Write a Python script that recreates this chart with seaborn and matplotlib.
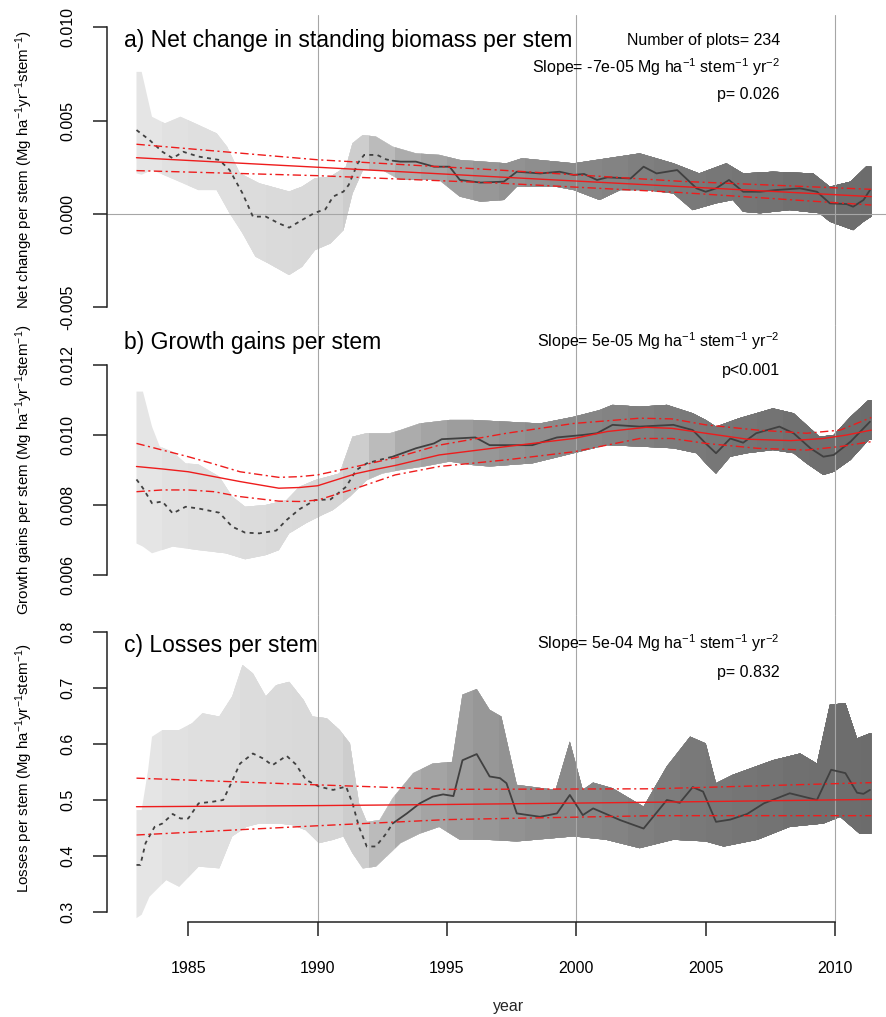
import matplotlib
matplotlib.use("Agg")
import matplotlib.pyplot as plt
from matplotlib.patches import Polygon
import numpy as np
import seaborn as sns

# ---- shared axis values ----
YEAR_TICKS = [1985, 1990, 1995, 2000, 2005, 2010]
YEAR_TICKLABELS = ["1985", "1990", "1995", "2000", "2005", "2010"]
GRID_YEARS = [1990, 2000, 2010]
DASH_END = 1992.9

# number of monitored plots per year (drives band shading)
plot_years = [1983, 1984, 1985, 1986, 1987, 1988, 1989, 1990, 1991, 1992,
              1993, 1994, 1995, 1996, 1997, 1998, 1999, 2000, 2001, 2002,
              2003, 2004, 2005, 2006, 2007, 2008, 2009, 2010, 2011]
plot_counts = [1, 2, 3, 3, 4, 5, 6, 8, 15, 35,
               60, 75, 90, 105, 118, 128, 140, 150, 160, 170,
               180, 190, 198, 205, 212, 220, 226, 232, 234]

# ---- a) net change ----
a_mean_yr = [1983.0, 1983.5, 1984.0, 1984.4, 1984.8, 1985.4, 1986.2, 1986.6, 1987.1, 1987.5,
             1988.0, 1988.5, 1988.9, 1989.4, 1989.9, 1990.3, 1990.6, 1991.0, 1991.2, 1991.55,
             1991.8, 1992.3, 1992.65, 1992.9, 1993.2, 1993.8, 1994.5, 1994.7, 1995.1, 1995.5,
             1996.3, 1997.2, 1997.7, 1998.6, 1999.35, 1999.9, 2000.3, 2000.8, 2001.2, 2002.1,
             2002.6, 2003.1, 2003.9, 2004.65, 2005.0, 2005.4, 2005.9, 2006.45, 2007.1, 2007.7,
             2008.65, 2009.3, 2009.8, 2010.45, 2010.7, 2011.1, 2011.35]
a_mean = [0.00449, 0.00396, 0.00333, 0.00298, 0.00333, 0.00307, 0.00289, 0.00235, 0.00110, -0.00014,
          -0.00014, -0.00050, -0.00073, -0.00032, 0.00007, 0.00025, 0.00093, 0.00120, 0.00155, 0.00271,
          0.00316, 0.00316, 0.00292, 0.00285, 0.00280, 0.00280, 0.00253, 0.00253, 0.00253, 0.00182,
          0.00168, 0.00173, 0.00226, 0.00217, 0.00226, 0.00209, 0.00214, 0.00182, 0.00196, 0.00190,
          0.00253, 0.00217, 0.00235, 0.00137, 0.00119, 0.00137, 0.00182, 0.00119, 0.00119, 0.00128,
          0.00137, 0.00119, 0.00057, 0.00053, 0.00039, 0.00075, 0.00128]
a_hi_yr = [1983.0, 1983.2, 1983.6, 1984.1, 1984.7, 1985.4, 1986.1, 1986.5, 1987.0, 1987.75,
           1988.9, 1989.4, 1989.9, 1990.5, 1991.1, 1991.35, 1991.75, 1992.25, 1992.9, 1993.8,
           1994.7, 1995.5, 1997.3, 1997.9, 1999.9, 2001.2, 2002.45, 2003.75, 2004.75, 2005.8,
           2006.45, 2007.6, 2009.15, 2009.8, 2010.6, 2011.2, 2011.4]
a_hi = [0.0076, 0.0076, 0.0052, 0.00485, 0.0052, 0.00476, 0.00431, 0.0036, 0.00217, 0.00164,
        0.0012, 0.00146, 0.00191, 0.0020, 0.00253, 0.00378, 0.00422, 0.00414, 0.0036, 0.00324,
        0.00316, 0.00289, 0.00271, 0.00298, 0.00271, 0.00298, 0.00324, 0.00271, 0.00217, 0.00271,
        0.00217, 0.00226, 0.00217, 0.00146, 0.00173, 0.00253, 0.00253]
a_lo_yr = [1983.0, 1983.2, 1983.6, 1984.5, 1985.4, 1986.1, 1986.6, 1987.1, 1987.6, 1988.1,
           1988.9, 1989.4, 1989.9, 1990.5, 1991.0, 1991.35, 1991.75, 1992.5, 1993.2, 1994.7,
           1995.5, 1996.3, 1997.2, 1997.7, 1999.2, 1999.9, 2000.9, 2001.7, 2002.7, 2003.75,
           2004.5, 2005.4, 2006.05, 2006.45, 2007.1, 2008.25, 2009.4, 2009.8, 2010.7, 2011.1,
           2011.4]
a_lo = [0.00217, 0.0021, 0.00235, 0.00182, 0.00128, 0.00128, 0.00004, -0.00103, -0.00228, -0.00264,
        -0.00326, -0.00282, -0.00193, -0.00157, -0.00086, 0.0011, 0.00235, 0.00235, 0.00182, 0.00182,
        0.00093, 0.00066, 0.00075, 0.00146, 0.00146, 0.00128, 0.00075, 0.00128, 0.00128, 0.0011,
        0.00021, 0.00057, 0.00075, 0.00012, 0.00004, 0.00021, 0.00004, -0.00041, -0.00086, -0.00041,
        -0.00014]
a_fit_yr = [1983.0, 1990.0, 1997.0, 2004.0, 2011.4]
a_fit = [0.00301, 0.00250, 0.00198, 0.00147, 0.00093]
a_fit_hi = [0.00373, 0.00290, 0.00235, 0.00175, 0.00132]
a_fit_lo = [0.00232, 0.00205, 0.00165, 0.00115, 0.00048]
a_ticks = [-0.005, 0.0, 0.005, 0.010]
a_ticklabels = ["-0.005", "0.000", "0.005", "0.010"]

# ---- b) growth gains ----
b_mean_yr = [1983.0, 1983.25, 1983.6, 1984.0, 1984.4, 1984.9, 1985.4, 1986.2, 1986.7, 1987.2,
             1987.75, 1988.4, 1988.8, 1989.3, 1989.9, 1990.5, 1991.1, 1991.5, 1991.9, 1992.4,
             1992.9, 1993.8, 1994.5, 1994.8, 1996.1, 1996.65, 1998.3, 1999.25, 2000.25, 2000.8,
             2001.4, 2002.45, 2003.75, 2004.5, 2005.0, 2005.4, 2005.95, 2006.45, 2006.95, 2007.85,
             2008.4, 2009.05, 2009.55, 2009.95, 2010.6, 2011.35]
b_mean = [0.00873, 0.00848, 0.00805, 0.0081, 0.00776, 0.00795, 0.0079, 0.00778, 0.00738, 0.00721,
          0.00719, 0.00727, 0.00757, 0.00788, 0.00814, 0.00816, 0.00852, 0.0090, 0.00919, 0.00929,
          0.00938, 0.00962, 0.00976, 0.00988, 0.00993, 0.00971, 0.00971, 0.00993, 0.0100, 0.01005,
          0.01029, 0.01024, 0.01029, 0.01014, 0.00976, 0.00948, 0.0099, 0.00978, 0.01005, 0.01024,
          0.01005, 0.00962, 0.00938, 0.00943, 0.00981, 0.01038]
b_hi_yr = [1983.0, 1983.25, 1983.6, 1983.9, 1984.4, 1984.9, 1985.4, 1986.2, 1986.7, 1987.2,
           1988.0, 1988.8, 1989.3, 1989.9, 1990.85, 1991.35, 1991.9, 1992.8, 1993.2, 1993.95,
           1995.1, 1996.0, 1998.6, 1999.9, 2000.9, 2001.4, 2002.45, 2003.5, 2004.5, 2005.0,
           2005.4, 2006.3, 2007.6, 2008.4, 2009.4, 2009.95, 2010.6, 2011.3, 2011.4]
b_hi = [0.01124, 0.01124, 0.01024, 0.00967, 0.00952, 0.00919, 0.00916, 0.00881, 0.00824, 0.00795,
        0.0080, 0.00814, 0.00852, 0.00871, 0.0089, 0.00995, 0.01005, 0.01005, 0.01014, 0.01033,
        0.01043, 0.01043, 0.01033, 0.01052, 0.01071, 0.01086, 0.01081, 0.01086, 0.01062, 0.01043,
        0.01024, 0.01048, 0.01076, 0.01062, 0.00995, 0.0100, 0.01052, 0.0110, 0.0110]
b_lo_yr = [1983.0, 1983.25, 1983.6, 1984.4, 1985.4, 1986.45, 1987.2, 1988.0, 1988.5, 1988.9,
           1989.55, 1990.05, 1990.6, 1991.25, 1991.9, 1992.5, 1993.2, 1994.1, 1995.1, 1996.0,
           1996.65, 1998.3, 1999.9, 2001.15, 2002.45, 2003.75, 2004.65, 2005.0, 2005.4, 2005.95,
           2006.6, 2007.6, 2008.4, 2008.9, 2009.55, 2009.95, 2010.6, 2011.3, 2011.4]
b_lo = [0.0069, 0.00681, 0.00662, 0.00681, 0.00671, 0.00662, 0.00645, 0.00657, 0.00671, 0.00719,
        0.00748, 0.00767, 0.00786, 0.00824, 0.00871, 0.0089, 0.0090, 0.0091, 0.00924, 0.00914,
        0.0091, 0.00919, 0.00948, 0.00971, 0.00967, 0.00962, 0.00948, 0.00919, 0.0089, 0.00938,
        0.00948, 0.00957, 0.00948, 0.00919, 0.00886, 0.00895, 0.00929, 0.00986, 0.00986]
b_fit_yr = [1983.0, 1984.0, 1985.0, 1986.0, 1987.0, 1988.5, 1989.3, 1990.0, 1991.5, 1992.25,
            1993.0, 1994.7, 1997.3, 1999.9, 2001.2, 2002.7, 2003.7, 2005.0, 2006.6, 2008.3,
            2009.55, 2010.45, 2011.4]
b_fit = [0.0091, 0.00903, 0.00895, 0.00881, 0.00867, 0.00848, 0.0085, 0.00855, 0.0089, 0.00902,
         0.00913, 0.00943, 0.00967, 0.0099, 0.0101, 0.01022, 0.01019, 0.01005, 0.00988, 0.00984,
         0.0099, 0.0100, 0.01014]
b_ci_yr = [1983.0, 1984.0, 1985.0, 1986.0, 1987.0, 1988.5, 1989.3, 1990.0, 1991.5, 1993.0,
           1994.7, 1997.3, 1999.9, 2002.45, 2003.7, 2005.0, 2007.0, 2008.9, 2010.2, 2011.4]
b_fit_hi = [0.00976, 0.00957, 0.00938, 0.00917, 0.00895, 0.00879, 0.00881, 0.00886, 0.0091, 0.00935,
            0.00971, 0.01005, 0.01033, 0.01048, 0.01046, 0.01029, 0.01014, 0.01005, 0.01014, 0.0105]
b_fit_lo = [0.00838, 0.00843, 0.00843, 0.00838, 0.00824, 0.00811, 0.0081, 0.00814, 0.00848, 0.00886,
            0.0091, 0.00929, 0.00952, 0.0099, 0.0099, 0.00976, 0.00962, 0.00957, 0.00967, 0.00981]
b_ticks = [0.006, 0.008, 0.010, 0.012]
b_ticklabels = ["0.006", "0.008", "0.010", "0.012"]

# ---- c) losses ----
c_mean_yr = [1983.0, 1983.15, 1983.35, 1983.7, 1984.0, 1984.4, 1984.7, 1985.0, 1985.4, 1985.95,
             1986.35, 1986.6, 1987.0, 1987.5, 1987.9, 1988.25, 1988.8, 1989.15, 1989.55, 1990.05,
             1990.6, 1991.1, 1991.35, 1991.6, 1991.9, 1992.25, 1992.65, 1992.9, 1993.45, 1993.95,
             1994.45, 1994.85, 1995.25, 1995.6, 1996.15, 1996.65, 1997.05, 1997.3, 1997.7, 1998.6,
             1999.25, 1999.75, 2000.25, 2000.65, 2001.7, 2002.6, 2003.5, 2004.0, 2004.5, 2004.9,
             2005.4, 2005.95, 2006.6, 2007.25, 2008.25, 2009.3, 2009.85, 2010.4, 2010.85, 2011.1,
             2011.35]
c_mean = [0.384, 0.384, 0.423, 0.452, 0.458, 0.475, 0.467, 0.467, 0.494, 0.497,
          0.500, 0.524, 0.565, 0.583, 0.574, 0.562, 0.579, 0.564, 0.536, 0.524,
          0.518, 0.524, 0.494, 0.452, 0.417, 0.417, 0.440, 0.458, 0.476, 0.494,
          0.506, 0.510, 0.507, 0.571, 0.582, 0.542, 0.539, 0.530, 0.476, 0.470,
          0.476, 0.509, 0.473, 0.485, 0.464, 0.449, 0.500, 0.495, 0.523, 0.515,
          0.461, 0.465, 0.475, 0.494, 0.512, 0.500, 0.554, 0.548, 0.513, 0.511,
          0.518]
c_hi_yr = [1983.0, 1983.2, 1983.45, 1983.6, 1984.0, 1984.65, 1985.15, 1985.55, 1986.2, 1986.7,
           1987.1, 1987.5, 1988.0, 1988.4, 1988.9, 1989.45, 1989.8, 1990.35, 1990.85, 1991.25,
           1991.6, 1991.9, 1992.4, 1992.9, 1993.7, 1994.45, 1995.2, 1995.6, 1996.15, 1996.65,
           1997.1, 1997.7, 1999.2, 1999.75, 2000.25, 2000.65, 2001.4, 2002.6, 2003.5, 2004.4,
           2005.0, 2005.4, 2006.05, 2007.6, 2008.65, 2009.3, 2009.8, 2010.4, 2010.85, 2011.35,
           2011.4]
c_hi = [0.482, 0.482, 0.554, 0.613, 0.625, 0.625, 0.637, 0.655, 0.649, 0.685,
        0.741, 0.726, 0.685, 0.705, 0.711, 0.679, 0.649, 0.646, 0.625, 0.601,
        0.494, 0.461, 0.464, 0.503, 0.548, 0.565, 0.568, 0.688, 0.698, 0.661,
        0.649, 0.527, 0.518, 0.604, 0.518, 0.531, 0.521, 0.488, 0.560, 0.613,
        0.601, 0.530, 0.545, 0.571, 0.583, 0.565, 0.670, 0.673, 0.610, 0.619,
        0.619]
c_lo_yr = [1983.0, 1983.2, 1983.5, 1984.15, 1984.65, 1985.4, 1986.2, 1986.7, 1987.25, 1987.75,
           1988.5, 1989.05, 1989.55, 1990.05, 1990.6, 1991.0, 1991.35, 1991.75, 1992.25, 1992.8,
           1993.2, 1993.95, 1994.7, 1995.5, 1996.5, 1997.7, 1999.9, 2001.15, 2002.45, 2003.75,
           2005.0, 2005.7, 2007.0, 2008.25, 2009.55, 2010.2, 2010.95, 2011.4]
c_lo = [0.289, 0.295, 0.327, 0.357, 0.345, 0.381, 0.378, 0.435, 0.452, 0.458,
        0.458, 0.455, 0.446, 0.423, 0.429, 0.435, 0.405, 0.378, 0.381, 0.405,
        0.423, 0.440, 0.452, 0.429, 0.429, 0.426, 0.435, 0.429, 0.414, 0.429,
        0.426, 0.417, 0.429, 0.452, 0.458, 0.470, 0.440, 0.440]
c_fit_yr = [1983.0, 1990.0, 1995.0, 2003.0, 2011.4]
c_fit = [0.488, 0.490, 0.492, 0.496, 0.501]
c_fit_hi = [0.539, 0.527, 0.519, 0.520, 0.531]
c_fit_lo = [0.4375, 0.454, 0.465, 0.472, 0.472]
c_ticks = [0.3, 0.4, 0.5, 0.6, 0.7, 0.8]
c_ticklabels = ["0.3", "0.4", "0.5", "0.6", "0.7", "0.8"]

# ---- style ----
sns.set_theme(style="white")
plt.rcParams["font.family"] = ["Liberation Sans", "DejaVu Sans"]
plt.rcParams["mathtext.fontset"] = "custom"
plt.rcParams["mathtext.rm"] = "Liberation Sans"
plt.rcParams["mathtext.it"] = "Liberation Sans:italic"
plt.rcParams["mathtext.bf"] = "Liberation Sans:bold"
plt.rcParams["axes.unicode_minus"] = False

FIG_W, FIG_H = 886, 1017
FS = 11.5
LABEL_FS = 10.8
INK = "#222222"
MEAN_COLOR = "#404040"
RED = "#ee1c1c"
GRID = "#a6a6a6"
XLIM = (1981.86, 2011.97)

fig = plt.figure(figsize=(FIG_W / 100, FIG_H / 100), dpi=100)


def px_axes(top, bottom, left=107, right=886):
    return fig.add_axes([left / FIG_W, 1 - bottom / FIG_H,
                         (right - left) / FIG_W, (bottom - top) / FIG_H])


def grey_for(n):
    return str(0.93 - 0.033 * np.sqrt(n))


def draw_panel(ax, p):
    # shaded band, darker where more plots were monitored
    verts = list(zip(p["hi_yr"], p["hi"])) + list(zip(p["lo_yr"][::-1], p["lo"][::-1]))
    band = Polygon(verts, closed=True, facecolor="none", edgecolor="none")
    ax.add_patch(band)
    for yr, n in zip(plot_years, plot_counts):
        span = ax.axvspan(yr, XLIM[1], color=grey_for(n), lw=0, zorder=1)
        span.set_clip_path(band)

    for g in GRID_YEARS:
        ax.axvline(g, color=GRID, lw=0.8, zorder=2)
    if p.get("zero"):
        ax.axhline(0, color=GRID, lw=0.8, zorder=2)

    yr = np.array(p["mean_yr"])
    mv = np.array(p["mean"])
    early = yr <= DASH_END
    late = yr >= DASH_END
    sns.lineplot(x=yr[early], y=mv[early], ax=ax, color=MEAN_COLOR, lw=1.3,
                 linestyle=(0, (2.2, 2.4)), estimator=None, sort=False, errorbar=None, zorder=3)
    sns.lineplot(x=yr[late], y=mv[late], ax=ax, color=MEAN_COLOR, lw=1.3,
                 estimator=None, sort=False, errorbar=None, zorder=3)

    sns.lineplot(x=p["fit_yr"], y=p["fit"], ax=ax, color=RED, lw=1.0,
                 estimator=None, sort=False, errorbar=None, zorder=4)
    for ci in (p["fit_hi"], p["fit_lo"]):
        sns.lineplot(x=p["ci_yr"], y=ci, ax=ax, color=RED, lw=1.0,
                     linestyle=(0, (6, 2.5, 1.5, 2.5)),
                     estimator=None, sort=False, errorbar=None, zorder=4)

    ax.set_xlim(*XLIM)
    ax.set_ylim(*p["ylim"])
    for side in ("top", "right", "bottom"):
        ax.spines[side].set_visible(False)
    ax.spines["left"].set_color(INK)
    ax.spines["left"].set_linewidth(1.1)
    ax.spines["left"].set_bounds(p["ticks"][0], p["ticks"][-1])
    ax.set_yticks(p["ticks"], labels=p["ticklabels"])
    ax.tick_params(axis="y", left=True, direction="out", length=10, width=1.1,
                   color=INK, pad=13, labelsize=FS, labelcolor="black", labelrotation=90)
    for lbl in ax.get_yticklabels():
        lbl.set_va("center")
    ax.set_xticks([])
    ax.set_xlabel("")
    ax.set_ylabel(p["ylabel"], fontsize=LABEL_FS, color="black")
    ax.yaxis.set_label_coords(-0.0924, 0.5)

    ax.text(0.0218, p["title_y"], p["title"], transform=ax.transAxes,
            fontsize=16.5, va="baseline", ha="left", color="black")
    for txt, ty in p["notes"]:
        ax.text(0.8639, ty, txt, transform=ax.transAxes, fontsize=FS,
                va="baseline", ha="right", color="black")


UNIT = r"(Mg ha$^{-1}$yr$^{-1}$stem$^{-1}$)"
panels = [
    dict(top=15, bottom=325, ylim=(-0.005936, 0.010642), zero=True,
         mean_yr=a_mean_yr, mean=a_mean, hi_yr=a_hi_yr, hi=a_hi, lo_yr=a_lo_yr, lo=a_lo,
         fit_yr=a_fit_yr, fit=a_fit, ci_yr=a_fit_yr, fit_hi=a_fit_hi, fit_lo=a_fit_lo,
         ticks=a_ticks, ticklabels=a_ticklabels,
         ylabel="Net change per stem " + UNIT,
         title="a) Net change in standing biomass per stem", title_y=0.8968,
         notes=[("Number of plots= 234", 0.9032),
                (r"Slope= -7e-05 Mg ha$^{-1}$ stem$^{-1}$ yr$^{-2}$", 0.8129),
                ("p= 0.026", 0.729)]),
    dict(top=325, bottom=615, ylim=(0.004857, 0.013143),
         mean_yr=b_mean_yr, mean=b_mean, hi_yr=b_hi_yr, hi=b_hi, lo_yr=b_lo_yr, lo=b_lo,
         fit_yr=b_fit_yr, fit=b_fit, ci_yr=b_ci_yr, fit_hi=b_fit_hi, fit_lo=b_fit_lo,
         ticks=b_ticks, ticklabels=b_ticklabels,
         ylabel="Growth gains per stem " + UNIT,
         title="b) Growth gains per stem", title_y=0.9172,
         notes=[(r"Slope= 5e-05 Mg ha$^{-1}$ stem$^{-1}$ yr$^{-2}$", 0.9241),
                ("p<0.001", 0.8276)]),
    dict(top=615, bottom=922, ylim=(0.2821, 0.8304),
         mean_yr=c_mean_yr, mean=c_mean, hi_yr=c_hi_yr, hi=c_hi, lo_yr=c_lo_yr, lo=c_lo,
         fit_yr=c_fit_yr, fit=c_fit, ci_yr=c_fit_yr, fit_hi=c_fit_hi, fit_lo=c_fit_lo,
         ticks=c_ticks, ticklabels=c_ticklabels,
         ylabel="Losses per stem " + UNIT,
         title="c) Losses per stem", title_y=0.8795,
         notes=[(r"Slope= 5e-04 Mg ha$^{-1}$ stem$^{-1}$ yr$^{-2}$", 0.8893),
                ("p= 0.832", 0.798)]),
]

axes = []
for p in panels:
    ax = px_axes(p["top"], p["bottom"])
    draw_panel(ax, p)
    axes.append(ax)

# bottom year axis on the last panel
ax_c = axes[-1]
ax_c.spines["bottom"].set_visible(True)
ax_c.spines["bottom"].set_color(INK)
ax_c.spines["bottom"].set_linewidth(1.1)
ax_c.spines["bottom"].set_bounds(YEAR_TICKS[0], YEAR_TICKS[-1])
ax_c.set_xticks(YEAR_TICKS, labels=YEAR_TICKLABELS)
ax_c.tick_params(axis="x", bottom=True, direction="out", length=10, width=1.1,
                 color=INK, pad=18, labelsize=FS, labelcolor="black")

fig.text(509 / FIG_W, 1 - 1006 / FIG_H, "year", fontsize=FS, ha="center", va="center")

fig.savefig("out.png", dpi=100)
